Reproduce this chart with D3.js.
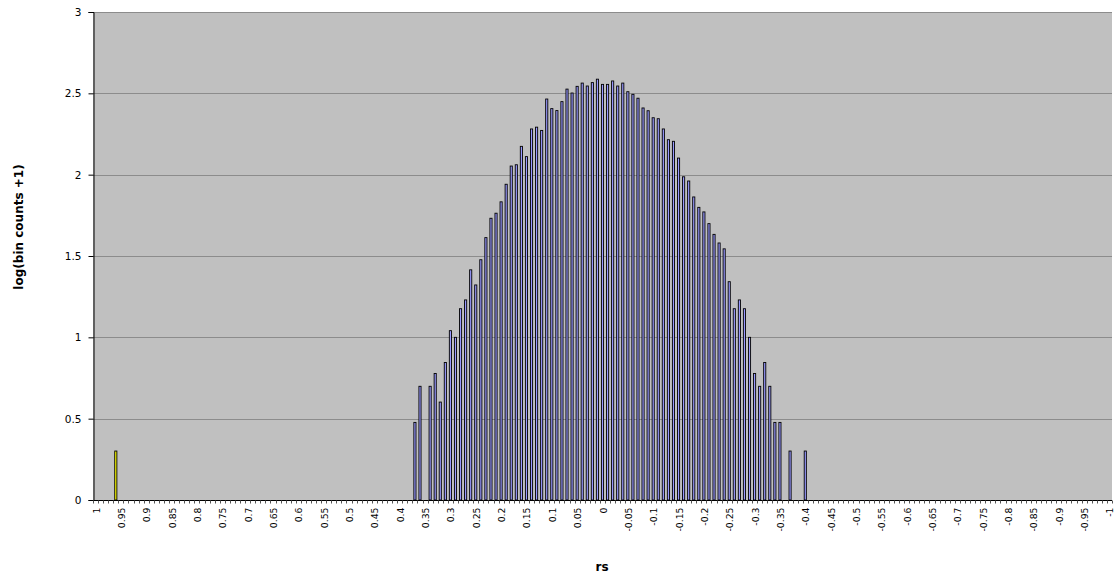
<!DOCTYPE html>
<html>
<head>
<meta charset="utf-8">
<script src="https://cdn.jsdelivr.net/npm/d3@7"></script>
<style>
  html, body { margin: 0; padding: 0; background: #ffffff; }
  svg { display: block; }
</style>
</head>
<body>
<svg id="chart" width="1116" height="579"></svg>
<script>
// ---- data ----
// bins of rs from 1 down to -1 in steps of 0.01
const categories = d3.range(100, -101, -1).map(i => i / 100);
// log10(bin count + 1), one value per bin, same order as categories
const values = [
  0, 0, 0, 0, 0.301, 0, 0, 0, 0, 0,
  0, 0, 0, 0, 0, 0, 0, 0, 0, 0,
  0, 0, 0, 0, 0, 0, 0, 0, 0, 0,
  0, 0, 0, 0, 0, 0, 0, 0, 0, 0,
  0, 0, 0, 0, 0, 0, 0, 0, 0, 0,
  0, 0, 0, 0, 0, 0, 0, 0, 0, 0,
  0, 0, 0, 0.477, 0.699, 0, 0.699, 0.778, 0.602, 0.845,
  1.041, 1.000, 1.176, 1.230, 1.415, 1.322, 1.477, 1.613, 1.732, 1.763,
  1.833, 1.941, 2.053, 2.061, 2.174, 2.111, 2.281, 2.292, 2.272, 2.465,
  2.406, 2.394, 2.449, 2.526, 2.502, 2.543, 2.563, 2.545, 2.566, 2.587,
  2.555, 2.555, 2.576, 2.545, 2.563, 2.510, 2.494, 2.470, 2.410, 2.393,
  2.350, 2.344, 2.281, 2.215, 2.205, 2.102, 1.987, 1.961, 1.863, 1.799,
  1.771, 1.699, 1.633, 1.580, 1.544, 1.342, 1.176, 1.230, 1.176, 1.000,
  0.778, 0.699, 0.845, 0.699, 0.477, 0.477, 0, 0.301, 0, 0,
  0.301, 0, 0, 0, 0, 0, 0, 0, 0, 0,
  0, 0, 0, 0, 0, 0, 0, 0, 0, 0,
  0, 0, 0, 0, 0, 0, 0, 0, 0, 0,
  0, 0, 0, 0, 0, 0, 0, 0, 0, 0,
  0, 0, 0, 0, 0, 0, 0, 0, 0, 0,
  0, 0, 0, 0, 0, 0, 0, 0, 0, 0,
  0
];
// bins drawn in the highlight colour
const highlighted = [0.96];
const yTicks = [0, 0.5, 1, 1.5, 2, 2.5, 3];
const xTitle = "rs";
const yTitle = "log(bin counts +1)";

// ---- layout ----
const mLeft = 93, mRight = 1112, mTop = 12, mBottom = 500;
const svg = d3.select("#chart");
const font = "'DejaVu Sans', Verdana, sans-serif";

const x = d3.scaleBand().domain(categories).range([mLeft, mRight]).padding(0);
const y = d3.scaleLinear().domain([0, 3]).range([mBottom, mTop]);

// plot background
svg.append("rect")
  .attr("x", mLeft).attr("y", mTop)
  .attr("width", mRight - mLeft).attr("height", mBottom - mTop)
  .attr("fill", "#c0c0c0");

// gridlines
svg.append("g")
  .selectAll("line")
  .data(yTicks.filter(t => t > 0))
  .join("line")
  .attr("x1", mLeft).attr("x2", mRight)
  .attr("y1", d => Math.round(y(d)) + 0.5).attr("y2", d => Math.round(y(d)) + 0.5)
  .attr("stroke", "#8c8c8c").attr("stroke-width", 1);

// bars
const data = categories.map((c, i) => ({ c, v: values[i] })).filter(d => d.v > 0);
const barW = x.bandwidth() * 0.42;
svg.append("g")
  .selectAll("rect")
  .data(data)
  .join("rect")
  .attr("x", d => x(d.c) + x.bandwidth() / 2 - barW / 2)
  .attr("y", d => y(d.v))
  .attr("width", barW)
  .attr("height", d => mBottom - y(d.v))
  .attr("fill", d => highlighted.includes(d.c) ? "#ffff00" : "#9999ff")
  .attr("stroke", "#000000")
  .attr("stroke-width", 0.9);

// y axis
const yAxis = d3.axisLeft(y).tickValues(yTicks).tickSize(5).tickPadding(7)
  .tickFormat(d => String(d));
const gy = svg.append("g").attr("transform", `translate(${mLeft + 0.5},0)`).call(yAxis);
gy.select(".domain").attr("stroke", "#000");
gy.selectAll(".tick line").attr("stroke", "#000");
gy.selectAll("text").attr("font-family", font).attr("font-size", 10.5).attr("fill", "#000");

// x axis: tick at every bin boundary, label every 5th bin
const gx = svg.append("g").attr("transform", `translate(0,${mBottom + 0.5})`);
gx.append("line").attr("x1", mLeft).attr("x2", mRight).attr("y1", 0).attr("y2", 0)
  .attr("stroke", "#000");
gx.selectAll("line.tk")
  .data(categories.concat([null]))
  .join("line").attr("class", "tk")
  .attr("x1", (d, i) => Math.round(mLeft + i * x.step()) + 0.5)
  .attr("x2", (d, i) => Math.round(mLeft + i * x.step()) + 0.5)
  .attr("y1", 0).attr("y2", 3)
  .attr("stroke", "#555");
gx.selectAll("text")
  .data(categories.filter((c, i) => i % 5 === 0))
  .join("text")
  .attr("transform", d => `translate(${x(d) + x.bandwidth() / 2 + 4},${7}) rotate(-90)`)
  .attr("text-anchor", "end")
  .attr("font-family", font).attr("font-size", 9.3).attr("fill", "#000")
  .text(d => String(d));

// titles
svg.append("text")
  .attr("x", 602).attr("y", 571)
  .attr("text-anchor", "middle")
  .attr("font-family", font).attr("font-size", 12).attr("font-weight", "bold")
  .text(xTitle);
svg.append("text")
  .attr("transform", `translate(23,227) rotate(-90)`)
  .attr("text-anchor", "middle")
  .attr("font-family", font).attr("font-size", 12).attr("font-weight", "bold")
  .text(yTitle);
</script>
</body>
</html>
